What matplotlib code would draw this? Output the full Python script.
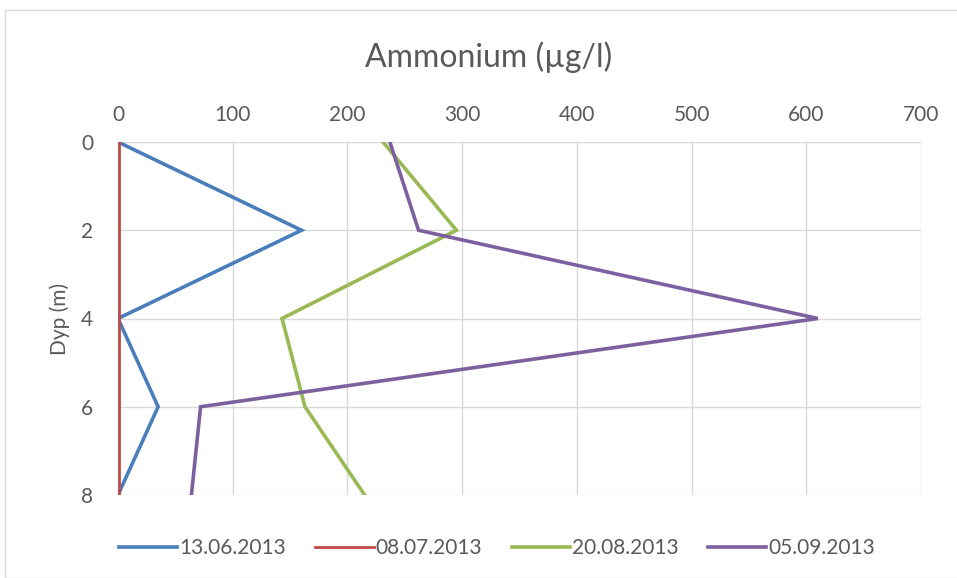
import matplotlib
matplotlib.use("Agg")
import matplotlib.pyplot as plt
from matplotlib.patches import Rectangle

depths = [0, 2, 4, 6, 8]
series_labels = ["13.06.2013", "08.07.2013", "20.08.2013", "05.09.2013"]
s_1306 = [0, 160, 0, 35, 0]
s_0807 = [1, 1, 1, 1, 1]
s_2008 = [231, 295, 143, 163, 215]
s_0509 = [237, 262, 610, 72, 64]
x_ticks = [0, 100, 200, 300, 400, 500, 600, 700]
y_ticks = [0, 2, 4, 6, 8]

colors = ["#4a7ebb", "#be4b48", "#98b954", "#7d60a0"]
widths = [2.6, 2.0, 2.6, 2.6]

plt.rcParams['font.family'] = ['Lato', 'DejaVu Sans']
txt = "#595959"

fig = plt.figure(figsize=(9.57, 5.78), dpi=100)
fig.patches.append(Rectangle((5/957, 0), 1, 1 - 10/578, transform=fig.transFigure,
                             fill=False, edgecolor="#d9d9d9", linewidth=1.0))
ax = fig.add_axes([118/957, 1 - 495/578, (921 - 118)/957, (495 - 142)/578])

for vals, lab, c, w in zip([s_1306, s_0807, s_2008, s_0509], series_labels, colors, widths):
    ax.plot(vals, depths, color=c, linewidth=w, label=lab, solid_joinstyle='miter')

ax.set_xlim(0, 700)
ax.set_ylim(8, 0)
ax.set_xticks(x_ticks)
ax.set_yticks(y_ticks)
ax.xaxis.tick_top()
ax.tick_params(axis='both', length=0, labelsize=15, colors=txt, pad=12)
ax.tick_params(axis='y', pad=18)
ax.grid(True, color="#d9d9d9", linewidth=1.0)
for s in ax.spines.values():
    s.set_visible(False)
ax.set_axisbelow(True)
ax.set_ylabel("Dyp (m)", fontsize=15, color=txt, labelpad=8)

fig.text(489/957, 1 - 57/578, "Ammonium (µg/l)", ha='center', va='center', fontsize=23, color=txt)

leg = fig.legend(loc='center', bbox_to_anchor=(497/957, 1 - 548/578), ncol=4, frameon=False,
                 fontsize=15, handlelength=2.8, columnspacing=1.4, handletextpad=0.1)
for t in leg.get_texts():
    t.set_color(txt)

fig.savefig("out.png", dpi=100)
